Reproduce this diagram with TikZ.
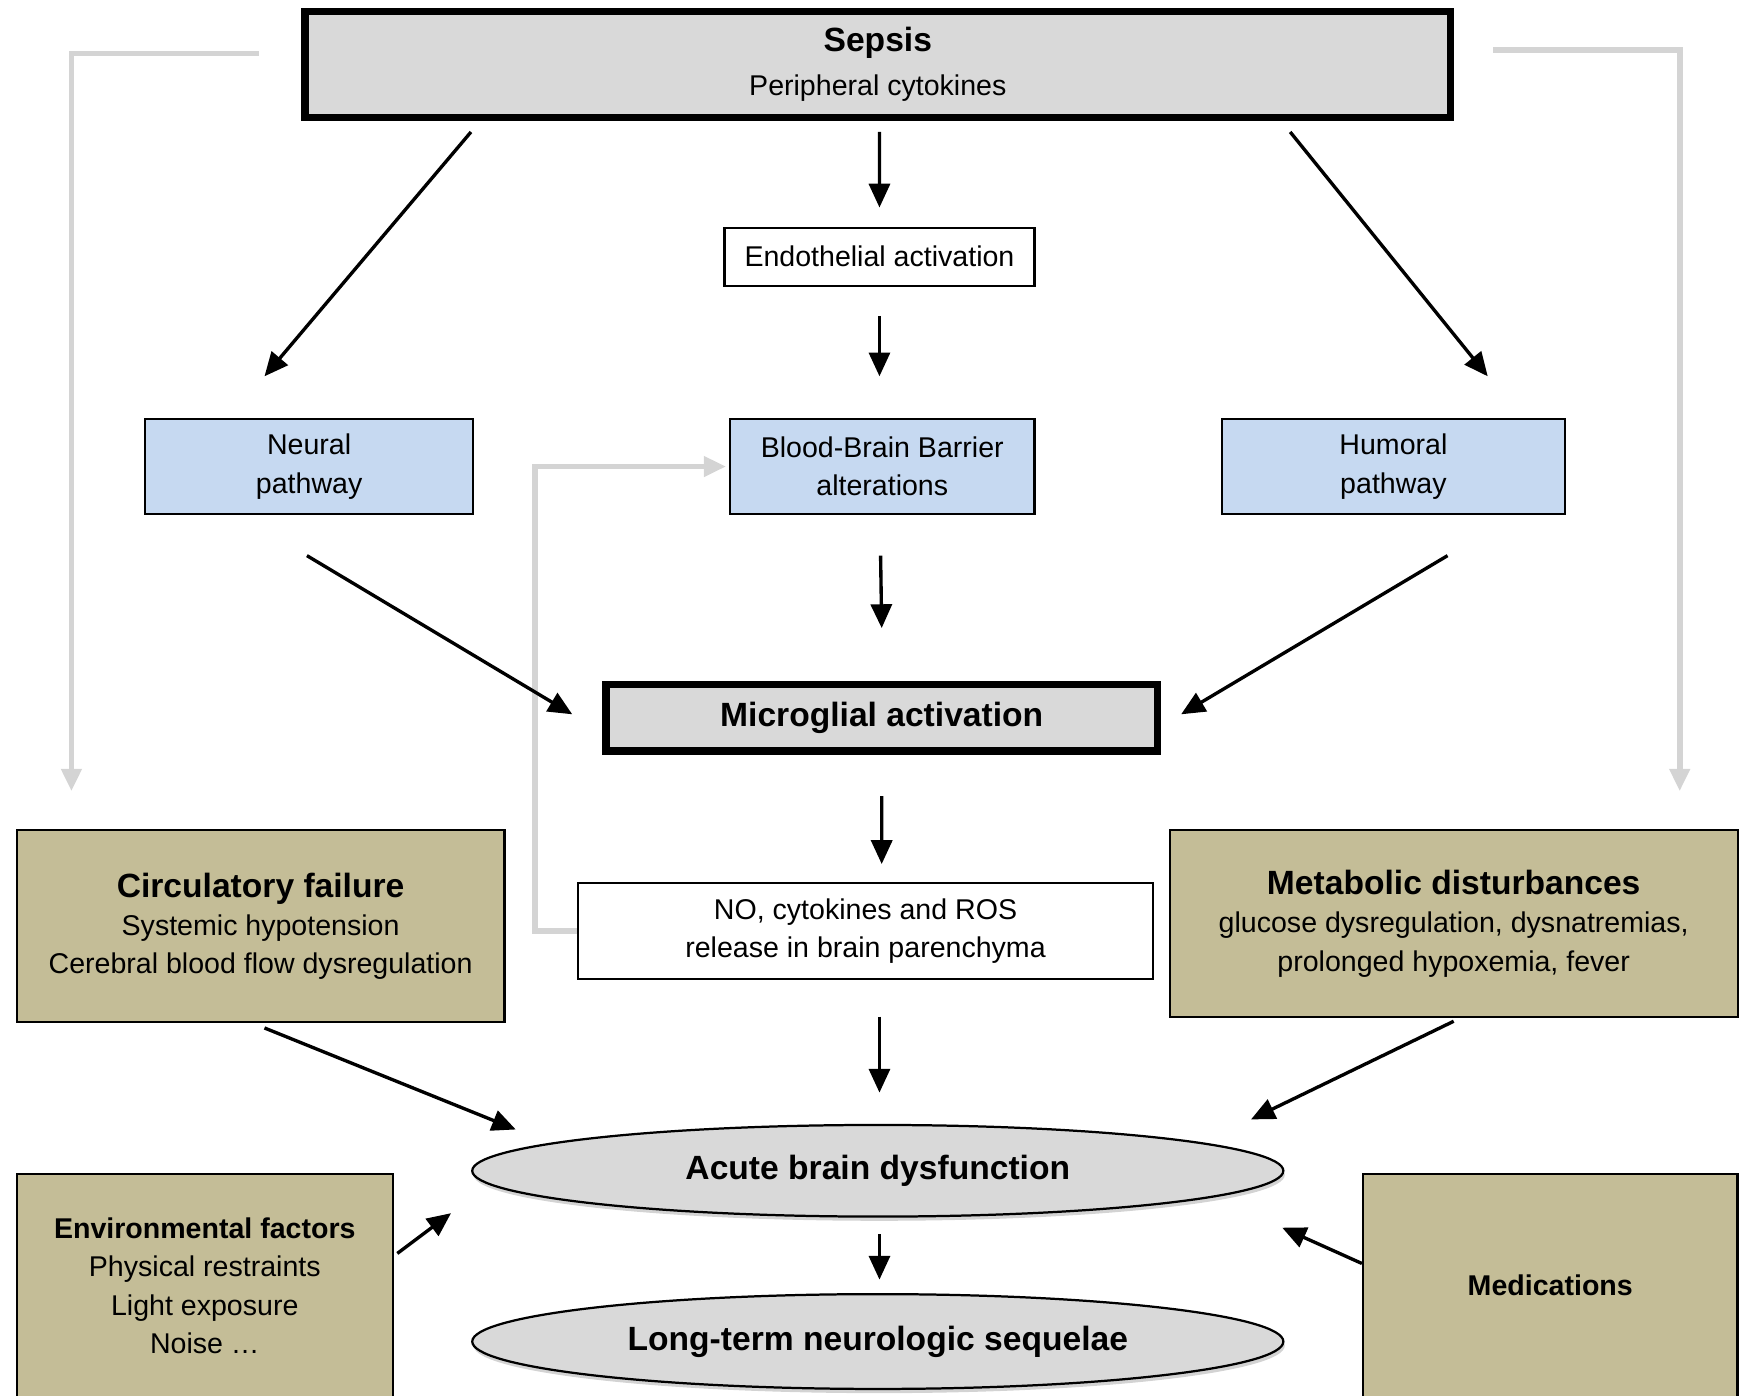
\documentclass[tikz,border=0pt]{standalone}
\usepackage{fontspec}
\setmainfont{Liberation Sans}
\usetikzlibrary{shapes.geometric,arrows.meta,shadows}
\definecolor{boxgray}{HTML}{D9D9D9}
\definecolor{pathblue}{HTML}{C6D9F1}
\definecolor{factortan}{HTML}{C4BD97}
\definecolor{loopgray}{HTML}{D4D4D4}
\newcommand{\boxhead}[1]{{\fontsize{12}{14}\selectfont\bfseries #1}}

\begin{document}
\begin{tikzpicture}[x=0.014cm, y=-0.014cm,  % sepsis and the brain
    every node/.style={font=\fontsize{10.2}{13.7}\selectfont, align=center, inner sep=0pt},
    main/.style={draw, line width=2.6pt, fill=boxgray},
    plain/.style={draw, line width=0.8pt, fill=white},
    route/.style={draw, line width=0.8pt, fill=pathblue},
    factor/.style={draw, line width=0.8pt, fill=factortan},
    outcome/.style={ellipse, draw, line width=0.8pt, fill=boxgray,
        drop shadow={opacity=0.35, shadow xshift=0.5pt, shadow yshift=-1.5pt}},
    arr/.style={-{Triangle[length=8.5pt,width=7.5pt]}, line width=1.2pt},
    loop/.style={-{Triangle[length=8pt,width=7pt]}, line width=2pt, draw=loopgray}]
    \useasboundingbox (0,0) rectangle (1568,1250);
    \clip (0,0) rectangle (1568,1250);

    % boxes
    \node[main, minimum width=14.38cm, minimum height=1.33cm] (sepsis) at (786.5,57.5)
        {\boxhead{Sepsis}\\[2pt] Peripheral cytokines};
    \node[plain, minimum width=3.89cm, minimum height=0.73cm] (endo) at (788,230) {Endothelial activation};
    \node[route, minimum width=4.12cm, minimum height=1.2cm] (neural) at (277,418) {Neural\\pathway};
    \node[route, minimum width=3.82cm, minimum height=1.2cm] (bbb) at (790.5,418) {Blood-Brain Barrier\\alterations};
    \node[route, minimum width=4.3cm, minimum height=1.2cm] (humoral) at (1248.5,418) {Humoral\\pathway};
    \node[main, minimum width=6.92cm, minimum height=0.84cm] (micro) at (790,643) {\boxhead{Microglial activation}};
    \node[plain, minimum width=7.21cm, minimum height=1.2cm] (no) at (775.5,834)
        {NO, cytokines and ROS\\release in brain parenchyma};
    \node[factor, minimum width=6.12cm, minimum height=2.41cm] (circ) at (233.5,830)
        {\boxhead{Circulatory failure}\\Systemic hypotension\\Cerebral blood flow dysregulation};
    \node[factor, minimum width=7.13cm, minimum height=2.34cm] (meta) at (1302.5,827.5)
        {\boxhead{Metabolic disturbances}\\glucose dysregulation, dysnatremias,\\prolonged hypoxemia, fever};
    \node[outcome, minimum width=10.18cm, minimum height=1.15cm] (acute) at (786.5,1049) {\boxhead{Acute brain dysfunction}};
    \node[outcome, minimum width=10.18cm, minimum height=1.19cm] (long) at (786.5,1202) {\boxhead{Long-term neurologic sequelae}};
    \node[factor, minimum width=4.72cm, minimum height=2.8cm] (env) at (183.5,1152)
        {\textbf{Environmental factors}\\Physical restraints\\Light exposure\\Noise \ldots};
    \node[factor, minimum width=4.7cm, minimum height=2.8cm] (med) at (1389,1152) {\textbf{Medications}};

    % grey loops
    \draw[loop] ([shift={(-38,-9.5)}]sepsis.west) -| ([shift={(-169.5,-34)}]circ.north);
    \draw[loop] ([shift={(35,-12.5)}]sepsis.east) -| ([shift={(202.5,-34)}]meta.north);
    \draw[loop] (no.west) -- ++(-38,0) |- ([xshift=-1pt]bbb.west);

    % arrows
    \draw[arr] ([shift={(-364.5,10)}]sepsis.south) -- ([shift={(-40,-37)}]neural.north);
    \draw[arr] ([shift={(1.5,10)}]sepsis.south) -- ([shift={(0,-17)}]endo.north);
    \draw[arr] ([shift={(369.5,10)}]sepsis.south) -- ([shift={(84.5,-37)}]humoral.north);
    \draw[arr] ([shift={(0,26)}]endo.south) -- ([shift={(-2.5,-37)}]bbb.north);
    \draw[arr] ([shift={(-2,36)}]neural.south) -- ([shift={(-27,-3)}]micro.west);
    \draw[arr] ([shift={(-1.5,36)}]bbb.south) -- ([shift={(0,-47)}]micro.north);
    \draw[arr] ([shift={(48.5,36)}]humoral.south) -- ([shift={(18,-3)}]micro.east);
    \draw[arr] ([shift={(0,37)}]micro.south) -- ([shift={(14.5,-16)}]no.north);
    \draw[arr] ([shift={(12.5,33)}]no.south) -- ([shift={(1.5,-28)}]acute.north);
    \draw[arr] ([shift={(3.5,4)}]circ.south) -- ([shift={(40,-37)}]acute.west);
    \draw[arr] ([shift={(0,3)}]meta.south) -- ([shift={(-30,-46)}]acute.east);
    \draw[arr] ([shift={(3,72)}]env.north east) -- ([shift={(-18,38)}]acute.west);
    \draw[arr] ([shift={(0,81)}]med.north west) -- ([shift={(-2,51)}]acute.east);
    \draw[arr] ([shift={(1.5,15)}]acute.south) -- ([shift={(1.5,-12)}]long.north);
\end{tikzpicture}
\end{document}
